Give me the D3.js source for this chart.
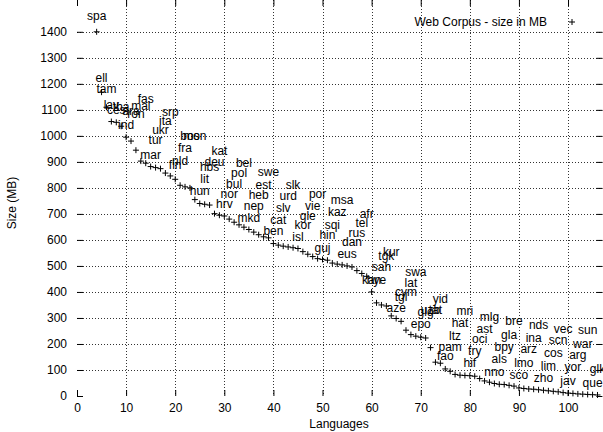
<!DOCTYPE html>
<html>
<head>
<meta charset="utf-8">
<title>Web Corpus - size in MB</title>
<style>
  body { margin: 0; background: #fff; }
  svg text { font-family: "Liberation Sans", Arial, sans-serif; }
</style>
</head>
<body>
<svg width="603" height="432"></svg>
<script src="https://d3js.org/d3.v7.min.js"></script>
<script>

// languages in rank order (rank 4 .. 106)
var langs = ["spa","ell","tam","lav","ces","tha","ind","ara","ron","mal",
  "fas","mar","tur","ukr","ita","srp","fin","nld","fra","bos",
  "mon","hun","lit","hbs","deu","kat","hrv","nor","bul","pol",
  "bel","mkd","nep","heb","est","swe","ben","cat","slv","urd",
  "slk","isl","kor","gle","vie","por","guj","hin","sqi","kaz",
  "msa","eus","dan","rus","tel","afr","kan","hye","sah","tgk",
  "kur","aze","tgl","cym","lat","swa","epo","glg","uzb","tat",
  "yid","fao","pam","ltz","hat","mri","hif","fry","oci","ast",
  "mlg","nno","als","bpy","gla","bre","sco","lmo","arz","ina",
  "nds","zho","lim","cos","scn","vec","jav","yor","arg","war",
  "sun","que","glk"];

var ranks = d3.range(4, 4 + langs.length);

// corpus size in MB
var sizes = [1400,1168,1110,1055,1052,1037,995,980,945,903,
  895,882,878,874,857,846,833,810,804,800,
  755,740,737,734,701,695,692,680,668,658,
  649,640,630,620,612,608,586,580,576,573,
  570,567,555,545,536,528,525,522,511,507,
  504,500,496,482,471,460,400,358,350,346,
  308,298,287,253,236,230,226,223,186,130,
  126,104,95,83,80,79,78,76,67,58,
  53,48,45,44,41,38,31,29,27,26,
  24,22,20,18,16,13,11,10,8,7,
  6,5,4];

// height (MB) at which each language label is written
var labelY = [1460,1225,1182,1120,1099,1110,1041,1097,1083,1114,
  1141,928,983,1025,1058,1092,887,906,955,1001,
  1001,787,836,881,900,942,740,776,817,858,
  898,686,730,772,813,862,635,676,725,769,
  813,612,660,691,730,776,571,621,657,708,
  753,548,592,628,665,702,448,448,495,538,
  556,340,381,400,435,477,278,322,332,330,
  375,153,191,230,282,327,127,172,221,259,
  304,92,144,188,236,289,83,127,182,225,
  272,71,118,167,217,259,58,112,157,201,
  253,50,105];

var xTicks = d3.range(0, 101, 10);
var yTicks = d3.range(0, 1401, 100);

var svg = d3.select("svg");
var x = d3.scaleLinear().domain([0, 107]).range([77, 602.4]);
var y = d3.scaleLinear().domain([0, 1480]).range([396, 11]);
var left = x(0), right = x(107), top = y(1480), bottom = y(0);

svg.append("rect").attr("width", 603).attr("height", 432).attr("fill", "#fff");

// grid
var grid = svg.append("g").attr("stroke", "#333").attr("stroke-width", 1)
    .attr("stroke-dasharray", "1,2");
grid.selectAll(".gx").data(xTicks.slice(1)).enter().append("line")
    .attr("x1", function(d) { return Math.round(x(d)) + 0.5; })
    .attr("x2", function(d) { return Math.round(x(d)) + 0.5; })
    .attr("y1", top).attr("y2", bottom);
grid.selectAll(".gy").data(yTicks.slice(1)).enter().append("line")
    .attr("y1", function(d) { return Math.round(y(d)) + 0.5; })
    .attr("y2", function(d) { return Math.round(y(d)) + 0.5; })
    .attr("x1", left).attr("x2", right);

function style(g) {
  g.select(".domain").remove();
  g.selectAll("text").attr("font-family", "Liberation Sans, Arial, sans-serif")
    .attr("font-size", 12).attr("fill", "#000");
  g.selectAll("line").attr("stroke", "#000");
}

svg.append("g").attr("transform", "translate(0," + bottom + ")")
    .call(d3.axisBottom(x).tickValues(xTicks).tickSize(-6).tickPadding(7))
    .call(style);
svg.append("g").attr("transform", "translate(0," + top + ")")
    .call(d3.axisTop(x).tickValues(xTicks).tickSize(-6).tickFormat(""))
    .call(style);
svg.append("g").attr("transform", "translate(" + left + ",0)")
    .call(d3.axisLeft(y).tickValues(yTicks).tickSize(-6).tickPadding(10).tickFormat(d3.format("d")))
    .call(style);
svg.append("g").attr("transform", "translate(" + right + ",0)")
    .call(d3.axisRight(y).tickValues(yTicks).tickSize(-6).tickFormat(""))
    .call(style);

svg.append("rect")
    .attr("x", left).attr("y", top)
    .attr("width", right - left).attr("height", bottom - top)
    .attr("fill", "none").attr("stroke", "#000").attr("stroke-width", 1.2);

// points
var plus = "M-3,0H3M0,-3V3";
svg.append("g").selectAll("path").data(ranks).enter().append("path")
    .attr("transform", function(d, i) { return "translate(" + x(d) + "," + y(sizes[i]) + ")"; })
    .attr("d", plus).attr("stroke", "#000").attr("stroke-width", 1).attr("fill", "none");

// language labels
svg.append("g").selectAll("text").data(ranks).enter().append("text")
    .attr("x", function(d) { return x(d); })
    .attr("y", function(d, i) { return y(labelY[i]); })
    .attr("dy", "0.35em")
    .attr("text-anchor", "middle")
    .attr("font-size", 12)
    .attr("fill", "#000")
    .text(function(d, i) { return langs[i]; });

// legend
svg.append("text").attr("x", 547).attr("y", 22).attr("dy", "0.35em")
    .attr("text-anchor", "end").attr("font-size", 12).text("Web Corpus - size in MB");
svg.append("path").attr("transform", "translate(572,22)").attr("d", plus)
    .attr("stroke", "#000").attr("fill", "none");

// axis titles
svg.append("text").attr("x", 339).attr("y", 424).attr("dy", "0.35em")
    .attr("text-anchor", "middle").attr("font-size", 12).text("Languages");
svg.append("text").attr("transform", "translate(12,203) rotate(-90)").attr("dy", "0.35em")
    .attr("text-anchor", "middle").attr("font-size", 12).text("Size (MB)");

</script>
</body>
</html>
